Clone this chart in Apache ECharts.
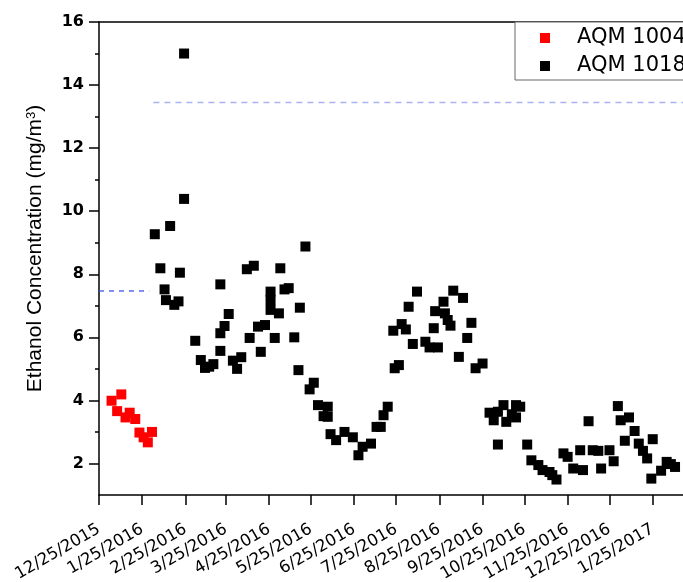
<!DOCTYPE html>
<html>
<head>
<meta charset="utf-8">
<script src="https://cdn.jsdelivr.net/npm/echarts@6/dist/echarts.min.js"></script>
<style>html,body{margin:0;padding:0;background:#fff;}#c{width:683px;height:582px;}</style>
</head>
<body>
<div id="c"></div>
<script>
// ---- data ----
const xTickLabels = ['12/25/2015','1/25/2016','2/25/2016','3/25/2016','4/25/2016','5/25/2016','6/25/2016','7/25/2016','8/25/2016','9/25/2016','10/25/2016','11/25/2016','12/25/2016','1/25/2017'];
const yTicks = [2,4,6,8,10,12,14,16];
const yMinorTicks = [3,5,7,9,11,13,15];
const seriesNames = ['AQM 1004','AQM 1018'];

const dates1004 = ['2016-01-03','2016-01-07','2016-01-10','2016-01-13','2016-01-16','2016-01-20','2016-01-23','2016-01-26','2016-01-29','2016-02-01'];
const values1004 = [3.99,3.66,4.19,3.46,3.61,3.41,2.98,2.83,2.67,3.00];

const dates1018 = ['2016-02-03','2016-02-07','2016-02-10','2016-02-11','2016-02-14','2016-02-17','2016-02-20','2016-02-21','2016-02-24','2016-02-24',
'2016-03-03','2016-03-07','2016-03-10','2016-03-13','2016-03-16','2016-03-21','2016-03-21','2016-03-21','2016-03-24','2016-03-27',
'2016-03-30','2016-04-02','2016-04-05','2016-04-09','2016-04-11','2016-04-14','2016-04-17','2016-04-19','2016-04-22','2016-04-26',
'2016-04-26','2016-04-26','2016-04-29','2016-05-02','2016-05-03','2016-05-06','2016-05-09','2016-05-13','2016-05-16','2016-05-17',
'2016-05-21','2016-05-24','2016-05-27','2016-05-30','2016-06-03','2016-06-06','2016-06-06','2016-06-08','2016-06-12','2016-06-18',
'2016-06-24','2016-06-28','2016-07-01','2016-07-07','2016-07-11','2016-07-14','2016-07-16','2016-07-19','2016-07-23','2016-07-24',
'2016-07-27','2016-07-29','2016-08-01','2016-08-03','2016-08-06','2016-08-09','2016-08-15','2016-08-18','2016-08-21','2016-08-22',
'2016-08-24','2016-08-28','2016-08-29','2016-08-31','2016-09-02','2016-09-04','2016-09-08','2016-09-11','2016-09-14','2016-09-17',
'2016-09-20','2016-09-25','2016-09-30','2016-10-03','2016-10-06','2016-10-06','2016-10-10','2016-10-12','2016-10-16','2016-10-19',
'2016-10-19','2016-10-22','2016-10-27','2016-10-30','2016-11-04','2016-11-07','2016-11-12','2016-11-14','2016-11-17','2016-11-22',
'2016-11-25','2016-11-29','2016-12-04','2016-12-06','2016-12-10','2016-12-13','2016-12-17','2016-12-19','2016-12-25','2016-12-28',
'2016-12-31','2017-01-02','2017-01-05','2017-01-08','2017-01-12','2017-01-15','2017-01-18','2017-01-21','2017-01-24','2017-01-25',
'2017-01-31','2017-02-04','2017-02-07','2017-02-10'];
const values1018 = [9.27,8.19,7.52,7.18,9.53,7.03,7.14,8.05,15.0,10.39,
5.89,5.28,5.03,5.07,5.15,5.57,7.68,6.13,6.36,6.74,
5.26,5.00,5.37,8.16,5.98,8.27,6.34,5.54,6.39,7.45,
7.18,6.87,5.98,6.76,8.19,7.52,7.56,6.00,4.96,6.94,
8.88,4.35,4.56,3.85,3.50,3.80,3.48,2.93,2.74,3.00,
2.83,2.26,2.53,2.63,3.16,3.16,3.53,3.80,6.21,5.02,
5.12,6.42,6.25,6.97,5.79,7.45,5.86,5.68,6.29,6.83,
5.68,7.13,6.76,6.55,6.37,7.48,5.38,7.25,5.98,6.46,
5.02,5.17,3.61,3.37,2.60,3.64,3.85,3.32,3.56,3.46,
3.85,3.80,2.60,2.10,1.95,1.79,1.73,1.63,1.49,2.32,
2.21,1.84,2.42,1.79,3.34,2.42,2.40,1.84,2.42,2.07,
3.82,3.37,2.72,3.46,3.03,2.63,2.40,2.16,1.52,2.77,
1.77,2.05,1.98,1.89];

const lowLimitDates = ['2015-12-25','2016-01-30'];
const lowLimitValue = 7.47;
const highLimitDates = ['2016-02-02','2017-02-20'];
const highLimitValue = 13.45;

// ---- helpers ----
function parseMDY(s){ const p = s.split('/').map(Number); return new Date(p[2], p[0]-1, p[1]).getTime(); }
function parseISO(s){ const p = s.split('-').map(Number); return new Date(p[0], p[1]-1, p[2]).getTime(); }
const xTickValues = xTickLabels.map(parseMDY);
const xMin = xTickValues[0];
const xMax = new Date(2017, 1, 15, 17).getTime();
function pairs(ds, vs){ return ds.map((d,i)=>[parseISO(d), vs[i]]); }
function fmt(v){ const d = new Date(v); return (d.getMonth()+1)+'/'+d.getDate()+'/'+d.getFullYear(); }

const chart = echarts.init(document.getElementById('c'), null, {renderer:'canvas'});
const axisLine = {show:true, lineStyle:{color:'#000', width:1.5}};
chart.setOption({
  animation:false,
  backgroundColor:'#fff',
  grid:{left:99, top:22, right:0, bottom:87, containLabel:false, outerBoundsMode:'none'},
  xAxis:[{
    type:'value', position:'bottom', min:xMin, max:xMax, scale:true,
    axisLine:axisLine, splitLine:{show:false},
    axisTick:{show:true, inside:false, length:10, lineStyle:{color:'#000', width:1.5}, customValues:xTickValues},
    axisLabel:{show:true, rotate:30, margin:33, color:'#000', fontSize:16.5, fontFamily:'DejaVu Sans', customValues:xTickValues, formatter:fmt, hideOverlap:false}
  },{
    type:'value', position:'top', min:xMin, max:xMax, scale:true,
    axisLine:axisLine, axisTick:{show:false}, axisLabel:{show:false}, splitLine:{show:false}
  }],
  yAxis:[{
    type:'value', position:'left', min:1, max:16,
    axisLine:axisLine, splitLine:{show:false},
    axisTick:{show:true, inside:false, length:10, lineStyle:{color:'#000', width:1.5}, customValues:yTicks},
    axisLabel:{show:true, margin:15, color:'#000', fontSize:16, fontWeight:'bold', fontFamily:'DejaVu Sans', customValues:yTicks},
    name:'Ethanol Concentration (mg/m{sup|3})', nameLocation:'middle', nameGap:53,
    nameTextStyle:{color:'#000', fontSize:21, fontFamily:'Liberation Sans', padding:[0,0,0,20],
      rich:{sup:{fontSize:13, fontFamily:'Liberation Sans', color:'#000', verticalAlign:'top', lineHeight:13}}}
  },{
    type:'value', position:'left', min:1, max:16,
    axisLine:{show:false}, splitLine:{show:false}, axisLabel:{show:false},
    axisTick:{show:true, inside:false, length:4, lineStyle:{color:'#000', width:1.5}, customValues:yMinorTicks}
  }],
  legend:{
    data:seriesNames, orient:'vertical', left:515, top:22,
    padding:[5,8,3,25], itemWidth:10, itemHeight:10, itemGap:6, icon:'rect',
    borderColor:'#666', borderWidth:1, backgroundColor:'#fff',
    textStyle:{fontSize:21, fontFamily:'DejaVu Sans', color:'#000', lineHeight:22, padding:[0,0,0,22]}
  },
  series:[
    {type:'line', name:'low', data:pairs(lowLimitDates, lowLimitDates.map(()=>lowLimitValue)), symbol:'none', silent:true,
     lineStyle:{color:'#3f55ee', width:1.3, type:[5,5]}, z:1},
    {type:'line', name:'high', data:pairs(highLimitDates, highLimitDates.map(()=>highLimitValue)), symbol:'none', silent:true,
     lineStyle:{color:'#aab2f4', width:1.5, type:[6,5]}, z:1},
    {type:'scatter', name:seriesNames[0], data:pairs(dates1004, values1004), symbol:'rect', symbolSize:10, itemStyle:{color:'#ff0000', opacity:1}, z:3},
    {type:'scatter', name:seriesNames[1], data:pairs(dates1018, values1018), symbol:'rect', symbolSize:10, itemStyle:{color:'#000000', opacity:1}, z:3}
  ]
});
</script>
</body>
</html>
